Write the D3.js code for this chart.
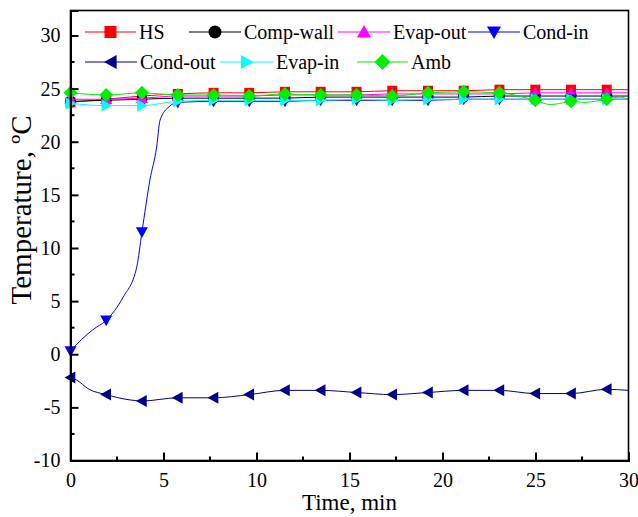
<!DOCTYPE html>
<html>
<head>
<meta charset="utf-8">
<script src="https://cdn.jsdelivr.net/npm/d3@7"></script>
<style>
  body { margin: 0; background: #fff; }
  svg text { font-family: "Liberation Serif", "Times New Roman", serif; fill: #000; }
</style>
</head>
<body>
<svg width="638" height="517"></svg>
<script>
// sample times (min); the last one (30) carries no marker
var times = [0, 1.92, 3.84, 5.77, 7.69, 9.61, 11.53, 13.45, 15.38, 17.3, 19.22, 21.14, 23.06, 24.99, 26.91, 28.83, 30];

var hsVals      = [23.7, 24.0, 24.3, 24.5, 24.6, 24.6, 24.7, 24.7, 24.7, 24.8, 24.8, 24.8, 24.9, 24.9, 24.9, 24.9, 24.9];
var compVals    = [23.8, 23.9, 24.0, 24.1, 24.1, 24.1, 24.1, 24.2, 24.2, 24.2, 24.2, 24.2, 24.3, 24.3, 24.3, 24.3, 24.3];
var evapOutVals = [24.0, 24.0, 24.1, 24.3, 24.3, 24.3, 24.4, 24.4, 24.4, 24.5, 24.5, 24.5, 24.5, 24.6, 24.6, 24.6, 24.6];
var condInVals  = [0.3, 3.2, 11.5, 23.7, 23.8, 23.8, 23.8, 23.9, 23.9, 23.9, 23.9, 24.0, 24.0, 24.0, 24.0, 24.0, 24.0];
var condOutVals = [-2.2, -3.8, -4.4, -4.1, -4.1, -3.8, -3.4, -3.4, -3.6, -3.8, -3.6, -3.4, -3.4, -3.7, -3.7, -3.3, -3.4];
var evapInVals  = [23.6, 23.4, 23.4, 23.8, 23.9, 23.9, 23.9, 23.9, 24.0, 23.9, 24.0, 24.0, 24.0, 24.0, 24.0, 24.0, 24.0];
var ambVals     = [24.6, 24.4, 24.6, 24.4, 24.4, 24.3, 24.5, 24.4, 24.4, 24.3, 24.6, 24.7, 24.6, 23.9, 23.8, 24.0, 24.0];

// extra points between markers
var condInExtra  = [[0.6, 1.4], [1.2, 2.3], [2.84, 5.4], [3.56, 8.2], [4.27, 16.4], [4.63, 19.5], [4.81, 22.0], [5.3, 23.3]];
var condOutExtra = [[0.3, -2.4], [1.0, -3.3], [3.2, -4.3]];
var ambExtra     = [[25.8, 23.5], [26.3, 23.6], [27.6, 23.7], [29.5, 24.2]];

var seriesNames = ["HS", "Comp-wall", "Evap-out", "Cond-in", "Cond-out", "Evap-in", "Amb"];
var xTicks = [0, 5, 10, 15, 20, 25, 30];
var yTicks = [-10, -5, 0, 5, 10, 15, 20, 25, 30];

var svg = d3.select("svg");
var pLeft = 70.5, pRight = 628.5, pTop = 10.5, pBottom = 460.5;

var x = d3.scaleLinear().domain([0, 30]).range([pLeft, pRight]);
var y = d3.scaleLinear().domain([-10, 32.35]).range([pBottom, pTop]);

function build(vals, extra) {
  var pts = vals.map(function (v, i) { return {t: times[i], v: v, mark: i < times.length - 1}; });
  (extra || []).forEach(function (e) { pts.push({t: e[0], v: e[1], mark: false}); });
  pts.sort(function (a, b) { return a.t - b.t; });
  return pts;
}

var sym = {
  square:  function (s) { return "M" + (-s) + "," + (-s) + "h" + 2 * s + "v" + 2 * s + "h" + (-2 * s) + "z"; },
  circle:  function (s) { return d3.symbol(d3.symbolCircle, Math.PI * s * s)(); },
  up:      function (s) { return "M0," + (-s) + "L" + s + "," + (s * 0.8) + "L" + (-s) + "," + (s * 0.8) + "z"; },
  down:    function (s) { return "M0," + s + "L" + s + "," + (-s * 0.8) + "L" + (-s) + "," + (-s * 0.8) + "z"; },
  leftTri: function (s) { return "M" + (-s) + ",0L" + (s * 0.8) + "," + (-s) + "L" + (s * 0.8) + "," + s + "z"; },
  rightTri:function (s) { return "M" + s + ",0L" + (-s * 0.8) + "," + (-s) + "L" + (-s * 0.8) + "," + s + "z"; },
  diamond: function (s) { return "M0," + (-s) + "L" + s + ",0L0," + s + "L" + (-s) + ",0z"; }
};

var series = [
  {name: seriesNames[0], color: "#ff0000", shape: "square",   size: 5,   pts: build(hsVals)},
  {name: seriesNames[1], color: "#000000", shape: "circle",   size: 5.5, pts: build(compVals)},
  {name: seriesNames[2], color: "#ff00ff", shape: "up",       size: 6,   pts: build(evapOutVals)},
  {name: seriesNames[3], color: "#0000ff", shape: "down",     size: 6,   pts: build(condInVals, condInExtra)},
  {name: seriesNames[4], color: "#00008b", shape: "leftTri",  size: 6,   pts: build(condOutVals, condOutExtra)},
  {name: seriesNames[5], color: "#00ffff", shape: "rightTri", size: 6,   pts: build(evapInVals)},
  {name: seriesNames[6], color: "#00ee00", shape: "diamond",  size: 7,   pts: build(ambVals, ambExtra)}
];

var line = d3.line()
  .x(function (d) { return x(d.t); })
  .y(function (d) { return y(d.v); })
  .curve(d3.curveMonotoneX);

var plot = svg.append("g");
series.forEach(function (s) {
  plot.append("path")
    .attr("d", line(s.pts))
    .attr("fill", "none")
    .attr("stroke", s.color)
    .attr("stroke-width", 1);
  plot.selectAll(null)
    .data(s.pts.filter(function (d) { return d.mark; }))
    .enter().append("path")
    .attr("transform", function (d) { return "translate(" + x(d.t) + "," + y(d.v) + ")"; })
    .attr("d", sym[s.shape](s.size))
    .attr("fill", s.color);
});

// frame
svg.append("rect")
  .attr("x", pLeft).attr("y", pTop)
  .attr("width", pRight - pLeft).attr("height", pBottom - pTop)
  .attr("fill", "none").attr("stroke", "#000").attr("stroke-width", 1.6);

// axes with inward ticks, plain hyphen for negatives
var fmt = function (d) { return String(d); };
var xAxis = svg.append("g").attr("transform", "translate(0," + pBottom + ")")
  .call(d3.axisBottom(x).tickValues(xTicks).tickSize(-8).tickPadding(12).tickFormat(fmt));
var yAxis = svg.append("g").attr("transform", "translate(" + pLeft + ",0)")
  .call(d3.axisLeft(y).tickValues(yTicks).tickSize(-8).tickPadding(10).tickFormat(fmt));
[xAxis, yAxis].forEach(function (a) {
  a.select(".domain").attr("stroke-width", 2);
  a.selectAll(".tick line").attr("stroke-width", 2);
  a.selectAll("text").style("font-size", "20px").attr("font-family", null);
});

// minor ticks
svg.append("g").selectAll("line")
  .data(d3.range(2.5, 30, 5))
  .enter().append("line")
  .attr("x1", function (d) { return x(d); }).attr("x2", function (d) { return x(d); })
  .attr("y1", pBottom).attr("y2", pBottom - 4)
  .attr("stroke", "#000").attr("stroke-width", 2);
svg.append("g").selectAll("line")
  .data(d3.range(-7.5, 32.4, 5))
  .enter().append("line")
  .attr("y1", function (d) { return y(d); }).attr("y2", function (d) { return y(d); })
  .attr("x1", pLeft).attr("x2", pLeft + 4)
  .attr("stroke", "#000").attr("stroke-width", 2);

// axis titles
svg.append("text")
  .attr("x", (pLeft + pRight) / 2).attr("y", 510)
  .attr("text-anchor", "middle").style("font-size", "23px")
  .text("Time, min");
svg.append("text")
  .attr("transform", "translate(31,210) rotate(-90)")
  .attr("text-anchor", "middle").style("font-size", "29px")
  .text("Temperature, \u00BAC");

// legend
var legendPos = [
  {x1: 85, x2: 136, y: 32},
  {x1: 189, x2: 241, y: 32},
  {x1: 338, x2: 390, y: 32},
  {x1: 468, x2: 520, y: 32},
  {x1: 85, x2: 137, y: 62},
  {x1: 220, x2: 273, y: 62},
  {x1: 357, x2: 408, y: 62}
];
series.forEach(function (s, i) {
  var p = legendPos[i];
  var g = svg.append("g");
  g.append("line")
    .attr("x1", p.x1).attr("x2", p.x2).attr("y1", p.y).attr("y2", p.y)
    .attr("stroke", s.color).attr("stroke-width", 1);
  g.append("path")
    .attr("transform", "translate(" + (p.x1 + p.x2) / 2 + "," + p.y + ")")
    .attr("d", sym[s.shape](s.size + 1))
    .attr("fill", s.color);
  g.append("text")
    .attr("x", p.x2 + 3).attr("y", p.y + 7)
    .style("font-size", "20px")
    .text(s.name);
});
</script>
</body>
</html>
